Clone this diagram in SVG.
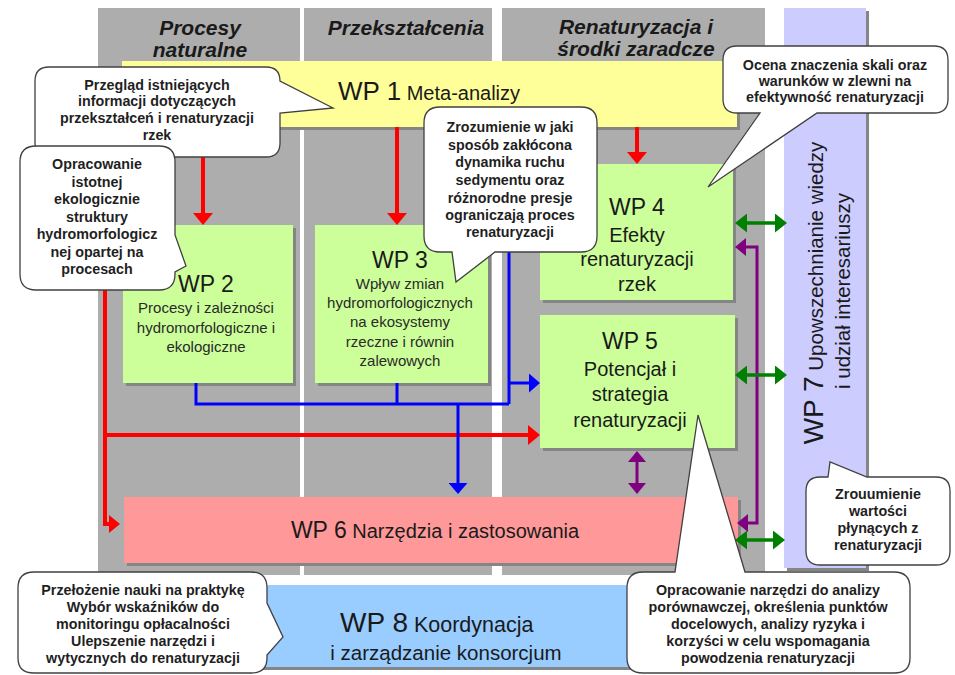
<svg xmlns="http://www.w3.org/2000/svg" width="955" height="675" viewBox="0 0 955 675">
<defs>
<style>
text{font-family:"Liberation Sans",Arial,sans-serif;fill:#1a1a1a}
.col{fill:#ADADAD}
.hdr{font-size:21px;font-weight:bold;font-style:italic;text-anchor:middle}
.sh{fill:#858585}
.m{text-anchor:middle}
.wpt{font-size:23px}
.b15{font-size:15px;fill:#2a2a2a}
.b20{font-size:20px}
.call{fill:#fff;stroke:#404040;stroke-width:1.3}
.ct{font-size:14.3px;font-weight:bold;text-anchor:middle;fill:#1f1f1f}
.red{stroke:#FF0000;stroke-width:4;fill:none}
.blue{stroke:#0000FF;stroke-width:3;fill:none}
.purple{stroke:#800080;stroke-width:3;fill:none}
.green{stroke:#008000;stroke-width:3.5;fill:none}
</style>
<marker id="ar" markerUnits="userSpaceOnUse" markerWidth="12" markerHeight="20" refX="0" refY="10" orient="auto"><path d="M0,0 L12,10 L0,20 Z" fill="#FF0000"/></marker>
<marker id="ars" markerUnits="userSpaceOnUse" markerWidth="11" markerHeight="18" refX="0" refY="9" orient="auto"><path d="M0,0 L11,9 L0,18 Z" fill="#FF0000"/></marker>
<marker id="ab" markerUnits="userSpaceOnUse" markerWidth="11" markerHeight="19" refX="0" refY="9.5" orient="auto"><path d="M0,0 L11,9.5 L0,19 Z" fill="#0000FF"/></marker>
<marker id="ap" markerUnits="userSpaceOnUse" markerWidth="11" markerHeight="18" refX="0" refY="9" orient="auto-start-reverse"><path d="M0,0 L11,9 L0,18 Z" fill="#800080"/></marker>
<marker id="ag" markerUnits="userSpaceOnUse" markerWidth="12" markerHeight="19" refX="0" refY="9.5" orient="auto-start-reverse"><path d="M0,0 L12,9.5 L0,19 Z" fill="#008000"/></marker>
</defs>

<g id="columns">
<rect class="col" x="98" y="8" width="202" height="567"/>
<rect class="col" x="304" y="8" width="188" height="567"/>
<rect class="col" x="502" y="8" width="263" height="567"/>
<text class="hdr" x="200" y="35">Procesy</text>
<text class="hdr" x="200" y="57">naturalne</text>
<text class="hdr" x="406" y="35">Przekształcenia</text>
<text class="hdr" x="636" y="34">Renaturyzacja i</text>
<text class="hdr" x="636" y="56">środki zaradcze</text>
</g>

<g id="wp7">
<rect class="sh" x="787" y="11" width="82" height="560"/>
<rect x="784" y="8" width="82" height="560" fill="#CCCCFF"/>
<text class="m" transform="translate(823,293) rotate(-90)"><tspan font-size="28">WP 7</tspan><tspan font-size="20.5"> Upowszechnianie wiedzy</tspan></text>
<text class="m" font-size="20.5" transform="translate(850,291) rotate(-90)">i udział interesariuszy</text>
</g>

<g id="wp1">
<rect class="sh" x="125" y="64" width="615" height="66"/>
<rect x="122" y="61" width="615" height="66" fill="#FFFF99"/>
<text x="338" y="100"><tspan font-size="26">WP 1</tspan><tspan font-size="20"> Meta-analizy</tspan></text>
</g>

<g id="wp2">
<rect class="sh" x="126" y="228" width="170" height="158"/>
<rect x="123" y="225" width="170" height="158" fill="#CCFF99"/>
<text class="m wpt" x="206" y="292">WP 2</text>
<text class="m b15" x="206" y="313">Procesy i zależności</text>
<text class="m b15" x="206" y="333">hydromorfologiczne i</text>
<text class="m b15" x="206" y="352">ekologiczne</text>
</g>

<g id="wp3">
<rect class="sh" x="318" y="228" width="173" height="158"/>
<rect x="315" y="225" width="173" height="158" fill="#CCFF99"/>
<text class="m wpt" x="400" y="268">WP 3</text>
<text class="m b15" x="400" y="289">Wpływ zmian</text>
<text class="m b15" x="400" y="308">hydromorfologicznych</text>
<text class="m b15" x="400" y="327">na ekosystemy</text>
<text class="m b15" x="400" y="347">rzeczne i równin</text>
<text class="m b15" x="400" y="366">zalewowych</text>
</g>

<g id="wp4">
<rect class="sh" x="543" y="167" width="193" height="136"/>
<rect x="540" y="164" width="193" height="136" fill="#CCFF99"/>
<text class="m wpt" x="637" y="215">WP 4</text>
<text class="m b20" x="637" y="242">Efekty</text>
<text class="m b20" x="637" y="266">renaturyzacji</text>
<text class="m b20" x="637" y="291">rzek</text>
</g>

<g id="wp5">
<rect class="sh" x="543" y="318" width="195" height="133"/>
<rect x="540" y="315" width="195" height="133" fill="#CCFF99"/>
<text class="m wpt" x="630" y="349">WP 5</text>
<text class="m b20" x="630" y="376">Potencjał i</text>
<text class="m b20" x="630" y="401">strategia</text>
<text class="m b20" x="630" y="427">renaturyzacji</text>
</g>

<g id="wp6">
<rect class="sh" x="127" y="500" width="614" height="66"/>
<rect x="124" y="497" width="614" height="66" fill="#FF9999"/>
<text class="m" x="435" y="538"><tspan font-size="23">WP 6</tspan><tspan font-size="20"> Narzędzia i zastosowania</tspan></text>
</g>

<g id="wp8">
<rect class="sh" x="125" y="588" width="615" height="82"/>
<rect x="122" y="585" width="615" height="82" fill="#99CCFF"/>
<text x="340" y="632"><tspan font-size="28">WP 8</tspan><tspan font-size="21.5"> Koordynacja</tspan></text>
<text class="m" x="446" y="660" font-size="20.5">i zarządzanie konsorcjum</text>
</g>

<g id="connectors">
<path class="red" d="M203,127 V213" marker-end="url(#ar)"/>
<path class="red" d="M397,127 V213" marker-end="url(#ar)"/>
<path class="red" d="M637,127 V152" marker-end="url(#ar)"/>
<path class="red" d="M105,160 V524 H109" marker-end="url(#ars)"/>
<path class="red" d="M105,435 H528" marker-end="url(#ar)"/>
<path class="blue" d="M196,383 V404 H509"/>
<path class="blue" d="M397,383 V404"/>
<path class="blue" d="M509,127 V404"/>
<path class="blue" d="M509,383 H529" marker-end="url(#ab)"/>
<path class="blue" d="M458,404 V483" marker-end="url(#ab)"/>
<path class="purple" d="M637,462 V483" marker-start="url(#ap)" marker-end="url(#ap)"/>
<path class="purple" d="M748,523 H757 V247 H746" marker-start="url(#ap)" marker-end="url(#ap)"/>
<path class="green" d="M747,223 H775" marker-start="url(#ag)" marker-end="url(#ag)"/>
<path class="green" d="M747,375 H775" marker-start="url(#ag)" marker-end="url(#ag)"/>
<path class="green" d="M747,540 H773" marker-start="url(#ag)" marker-end="url(#ag)"/>
</g>

<g id="callout1">
<path class="call" d="M49,67 H266 Q280,67 280,81 L333,108 L280,113 V143 Q280,157 266,157 H49 Q35,157 35,143 V81 Q35,67 49,67 Z"/>
<text class="ct" x="157" y="90">Przegląd istniejących</text>
<text class="ct" x="157" y="106">informacji dotyczących</text>
<text class="ct" x="157" y="123">przekształceń i renaturyzacji</text>
<text class="ct" x="157" y="140">rzek</text>
</g>

<g id="callout2">
<path class="call" d="M36,146 H159 Q175,146 175,162 V235 L186,266 L175,272 V274 Q175,290 159,290 H36 Q20,290 20,274 V162 Q20,146 36,146 Z"/>
<text class="ct" x="97" y="169">Opracowanie</text>
<text class="ct" x="97" y="187">istotnej</text>
<text class="ct" x="97" y="204">ekologicznie</text>
<text class="ct" x="97" y="222">struktury</text>
<text class="ct" x="97" y="239">hydromorfologicz</text>
<text class="ct" x="97" y="257">nej opartej na</text>
<text class="ct" x="97" y="274">procesach</text>
</g>

<g id="callout3">
<path class="call" d="M440,107 H581 Q597,107 597,123 V236 Q597,252 581,252 H495 L456,282 L452,252 H440 Q424,252 424,236 V123 Q424,107 440,107 Z"/>
<text class="ct" x="510" y="132">Zrozumienie w jaki</text>
<text class="ct" x="510" y="150">sposób zakłócona</text>
<text class="ct" x="510" y="167">dynamika ruchu</text>
<text class="ct" x="510" y="185">sedymentu oraz</text>
<text class="ct" x="510" y="203">różnorodne presje</text>
<text class="ct" x="510" y="220">ograniczają proces</text>
<text class="ct" x="510" y="237">renaturyzacji</text>
</g>

<g id="callout4">
<path class="call" d="M737,46 H934 Q948,46 948,60 V99 Q948,113 934,113 H817 L708,187 L760,113 H737 Q723,113 723,99 V60 Q723,46 737,46 Z"/>
<text class="ct" x="835" y="70">Ocena znaczenia skali oraz</text>
<text class="ct" x="835" y="86">warunków w zlewni na</text>
<text class="ct" x="835" y="102">efektywność renaturyzacji</text>
</g>

<g id="callout5">
<path class="call" d="M820,477 H828 L830,462 L867,477 H936 Q950,477 950,491 V551 Q950,565 936,565 H820 Q806,565 806,551 V491 Q806,477 820,477 Z"/>
<text class="ct" x="878" y="499">Zrouumienie</text>
<text class="ct" x="878" y="516">wartości</text>
<text class="ct" x="878" y="533">płynących z</text>
<text class="ct" x="878" y="550">renaturyzacji</text>
</g>

<g id="callout6">
<path class="call" d="M34,572 H251 Q267,572 267,588 V603 L283,637 L267,655 V658 Q267,673 251,673 H34 Q18,673 18,658 V588 Q18,572 34,572 Z"/>
<text class="ct" x="143" y="595">Przełożenie nauki na praktykę</text>
<text class="ct" x="143" y="612">Wybór wskaźników do</text>
<text class="ct" x="143" y="629">monitoringu opłacalności</text>
<text class="ct" x="143" y="646">Ulepszenie narzędzi i</text>
<text class="ct" x="143" y="663">wytycznych do renaturyzacji</text>
</g>

<g id="callout7">
<path class="call" d="M643,572 H675 L698,415 L745,572 H894 Q910,572 910,588 V658 Q910,673 894,673 H643 Q627,673 627,658 V588 Q627,572 643,572 Z"/>
<text class="ct" x="768" y="595">Opracowanie narzędzi do analizy</text>
<text class="ct" x="768" y="612">porównawczej, określenia punktów</text>
<text class="ct" x="768" y="629">docelowych, analizy ryzyka i</text>
<text class="ct" x="768" y="646">korzyści w celu wspomagania</text>
<text class="ct" x="768" y="663">powodzenia renaturyzacji</text>
</g>
</svg>
